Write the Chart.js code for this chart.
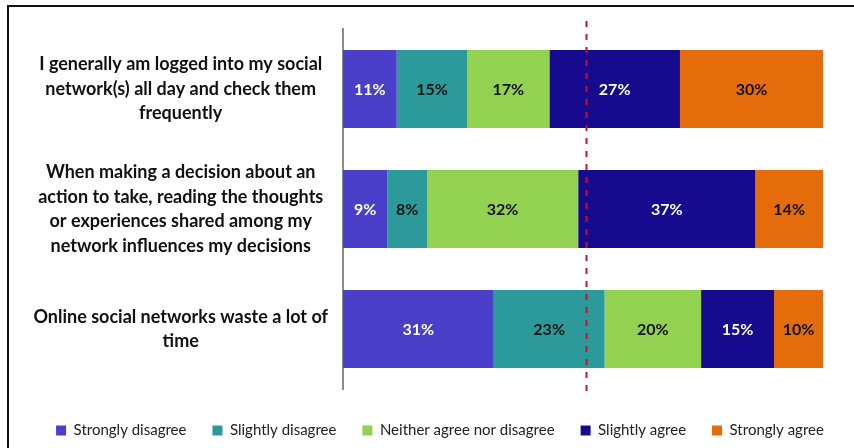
<!DOCTYPE html>
<html>
<head>
<meta charset="utf-8">
<script src="https://cdn.jsdelivr.net/npm/chart.js@4.4.1/dist/chart.umd.min.js"></script>
<style>
    html, body{
        margin:0;
        padding:0;
        background:#fff;
        overflow:hidden;
    }
    #wrap{
        position:relative;
        width:854px;
        height:448px;
    }
    #frame{
        position:absolute;
        left:7px;
        top:5px;
        width:900px;
        height:500px;
        border-left:2px solid #111;
        border-top:2px solid #111;
    }
    #chart{
        position:absolute;
        left:0;
        top:0;
    }
</style>
</head>
<body>
<div id="wrap">
    <div id="frame"></div>
    <canvas id="chart" width="854" height="448"></canvas>
</div>

<script>
/*
=================================
DATA
=================================
*/

const statements = [
    ["I generally am logged into my social", "network(s) all day and check them", "frequently"],
    ["When making a decision about an", "action to take, reading the thoughts", "or experiences shared among my", "network influences my decisions"],
    ["Online social networks waste a lot of", "time"]
];

const seriesNames = [
    "Strongly disagree",
    "Slightly disagree",
    "Neither agree nor disagree",
    "Slightly agree",
    "Strongly agree"
];

const stronglyDisagree = [11.2, 9.2, 31.4];
const slightlyDisagree = [14.7, 8.3, 23.1];
const neitherAgree     = [17.1, 31.5, 20.1];
const slightlyAgree    = [27.2, 36.9, 15.2];
const stronglyAgree    = [29.8, 14.1, 10.2];

const referenceValue = 50.7;

/*
=================================
STYLES
=================================
*/

const seriesColors = ["#4a3fc9", "#2c9a9b", "#93d150", "#160b8f", "#e46c0a"];
const labelColors  = ["#ffffff", "#111111", "#111111", "#ffffff", "#111111"];

const FONT = "Lato, 'Open Sans', sans-serif";

/*
=================================
PLUGINS
=================================
*/

const barLabels = {
    id:"barLabels",
    afterDatasetsDraw(chart){
        const ctx = chart.ctx;
        ctx.save();
        ctx.font = "bold 16px " + FONT;
        ctx.textAlign = "center";
        ctx.textBaseline = "middle";
        chart.data.datasets.forEach((ds, i) => {
            const meta = chart.getDatasetMeta(i);
            meta.data.forEach((bar, j) => {
                const cx = (bar.x + bar.base) / 2;
                ctx.fillStyle = labelColors[i];
                ctx.fillText(Math.round(ds.data[j]) + "%", cx, bar.y + 1);
            });
        });
        ctx.restore();
    }
};

const referenceLine = {
    id:"referenceLine",
    afterDatasetsDraw(chart){
        const ctx = chart.ctx;
        const area = chart.chartArea;
        const x = Math.round(chart.scales.x.getPixelForValue(referenceValue)) + 0.5;
        ctx.save();
        ctx.strokeStyle = "#c8102e";
        ctx.lineWidth = 2;
        ctx.setLineDash([6, 7]);
        ctx.beginPath();
        ctx.moveTo(x, area.top - 8);
        ctx.lineTo(x, area.bottom + 2);
        ctx.stroke();
        ctx.restore();
    }
};

/*
=================================
CHART
=================================
*/

const seriesValues = [stronglyDisagree, slightlyDisagree, neitherAgree, slightlyAgree, stronglyAgree];

new Chart(document.getElementById("chart"), {
    type:"bar",
    data:{
        labels:statements,
        datasets:seriesNames.map((name, i) => ({
            label:name,
            data:seriesValues[i],
            backgroundColor:seriesColors[i],
            borderWidth:0,
            categoryPercentage:1,
            barPercentage:0.65
        }))
    },
    options:{
        indexAxis:"y",
        responsive:false,
        animation:false,
        layout:{
            padding:{ top:29, left:26, right:0, bottom:0 }
        },
        scales:{
            x:{
                stacked:true,
                min:0,
                max:100,
                grid:{ display:false, drawTicks:false },
                border:{ display:false },
                ticks:{ display:false },
                afterFit(scale){
                    scale.height = 8;
                }
            },
            y:{
                stacked:true,
                grid:{ display:false, drawTicks:false },
                border:{ display:true, color:"#8c8c8c", width:2 },
                ticks:{
                    crossAlign:"center",
                    padding:15,
                    color:"#111",
                    font:{ family:FONT, size:18, weight:"bold", lineHeight:1.36 }
                },
                afterFit(scale){
                    scale.width = 343 - 26;
                    scale.paddingTop = 0;
                    scale.paddingBottom = 0;
                }
            },
            yRight:{
                type:"category",
                position:"right",
                grid:{ display:false, drawTicks:false },
                border:{ display:false },
                ticks:{ display:false },
                afterFit(scale){
                    scale.width = 31;
                }
            }
        },
        plugins:{
            legend:{
                position:"bottom",
                labels:{
                    boxWidth:10,
                    boxHeight:10,
                    padding:26,
                    color:"#222",
                    font:{ family:FONT, size:15 }
                }
            },
            tooltip:{ enabled:false }
        }
    },
    plugins:[barLabels, referenceLine]
});
</script>
</body>
</html>
